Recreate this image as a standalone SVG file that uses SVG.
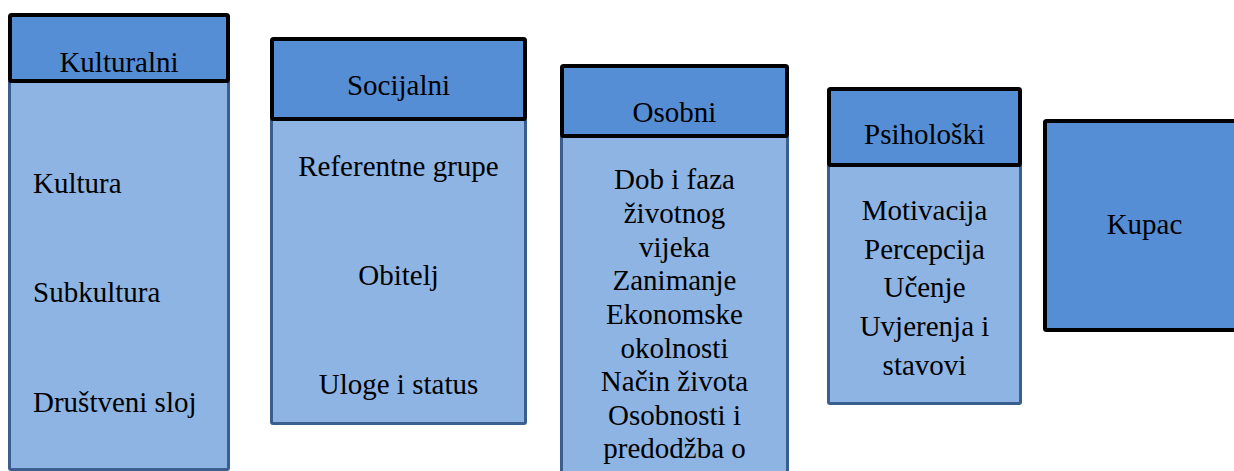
<svg xmlns="http://www.w3.org/2000/svg" width="1234" height="471" viewBox="0 0 1234 471">
<style>
.body{fill:#8EB4E3;stroke:#3A5F8F;stroke-width:3}
.head{fill:#558ED5;stroke:#000;stroke-width:4}
text{font-size:29px;fill:#000}
.c{text-anchor:middle}
</style>
<rect width="1234" height="471" fill="#fff"/>
<g font-family="Liberation Serif, Times New Roman, DejaVu Serif, serif">
<g id="kulturalni">
<rect class="body" x="9.5" y="81" width="219" height="388.5" rx="1.5"/>
<rect class="head" x="10" y="15" width="218" height="66" rx="1.5"/>
<text class="c" x="119" y="71.5">Kulturalni</text>
<text x="33" y="193">Kultura</text>
<text x="33" y="301.5">Subkultura</text>
<text x="33" y="411.5">Društveni sloj</text>
</g>
<g id="socijalni">
<rect class="body" x="271.5" y="119" width="254" height="304.5" rx="1.5"/>
<rect class="head" x="272" y="39" width="253" height="80" rx="1.5"/>
<text class="c" x="398.5" y="95">Socijalni</text>
<text class="c" x="398.5" y="175.5">Referentne grupe</text>
<text class="c" x="398.5" y="285">Obitelj</text>
<text class="c" x="398.5" y="393.5">Uloge i status</text>
</g>
<g id="osobni">
<rect class="body" x="561.5" y="136" width="226" height="345" rx="1.5"/>
<rect class="head" x="562" y="66" width="225" height="70" rx="1.5"/>
<text class="c" x="674.5" y="121.5">Osobni</text>
<text class="c" x="674.5" y="189.3">Dob i faza</text>
<text class="c" x="674.5" y="223">životnog</text>
<text class="c" x="674.5" y="256.5">vijeka</text>
<text class="c" x="674.5" y="290.2">Zanimanje</text>
<text class="c" x="674.5" y="323.8">Ekonomske</text>
<text class="c" x="674.5" y="357.5">okolnosti</text>
<text class="c" x="674.5" y="391.1">Način života</text>
<text class="c" x="674.5" y="424.7">Osobnosti i</text>
<text class="c" x="674.5" y="458.4">predodžba o</text>
</g>
<g id="psiholoski">
<rect class="body" x="828.5" y="165" width="192" height="238.5" rx="1.5"/>
<rect class="head" x="829" y="89" width="191" height="76" rx="1.5"/>
<text class="c" x="924.5" y="144">Psihološki</text>
<text class="c" x="924.5" y="220">Motivacija</text>
<text class="c" x="924.5" y="258.7">Percepcija</text>
<text class="c" x="924.5" y="297.4">Učenje</text>
<text class="c" x="924.5" y="336">Uvjerenja i</text>
<text class="c" x="924.5" y="374.8">stavovi</text>
</g>
<g id="kupac">
<rect class="head" x="1045" y="121" width="200" height="209" rx="1.5"/>
<text class="c" x="1144.5" y="234">Kupac</text>
</g>
</g>
<g id="connectors"></g>
</svg>
